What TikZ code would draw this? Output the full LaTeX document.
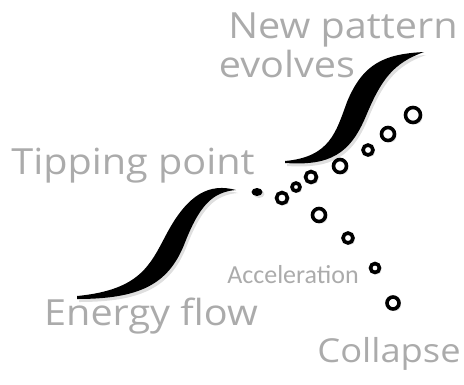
\documentclass[tikz,border=0pt]{standalone}
\usepackage{fontspec}
\setmainfont{Open Sans}[FakeStretch=1.1]
\newfontfamily\accfont{Carlito}
\usepackage{tikz}
\usetikzlibrary{shadows,shapes.geometric}

\tikzset{
  label/.style={text=black!33,font=\fontsize{36}{40}\selectfont,inner sep=0pt},
  wave/.style={fill=black,drop shadow={shadow xshift=2pt,shadow yshift=-3pt,opacity=0.25}},
  ring/.style={draw=black,fill=white,line width=3.6pt,circle,inner sep=0pt,
    drop shadow={shadow xshift=2pt,shadow yshift=-2pt,opacity=0.25}},
}

\begin{document}
\begin{tikzpicture}[x=1pt,y=-1pt]
  \useasboundingbox (0,0) rectangle (464,384);
  % the two S-shaped energy curves
  \fill[wave] (77,296) .. controls (140,290) and (150,265) .. (166,235)
    .. controls (188,193) and (210,183) .. (236,190)
    .. controls (212,192) and (199,206) .. (184,245)
    .. controls (168,284) and (140,299) .. (77,299) -- cycle;
  \fill[wave] (285,161) .. controls (330,157) and (336,132) .. (347,102)
    .. controls (363,63) and (385,54) .. (424,52)
    .. controls (393,63) and (381,80) .. (366,116)
    .. controls (350,154) and (330,166) .. (285,163) -- cycle;
  % rings after the tipping point
  \node[fill=black,ellipse,minimum width=11pt,minimum height=8pt,inner sep=0pt,
    drop shadow={shadow xshift=2pt,shadow yshift=-2pt,opacity=0.25}] (d0) at (257,192) {};
  \foreach \nm/\px/\py/\sz in {u1/282/198/11,u2/296/187/8,u3/311/177/11,u4/340/166/13,
      u5/368/150/10,u6/388/134/13,u7/413/115/15,
      c1/319/215/13,c2/348/238/10,c3/375/268/9,c4/393/303/12}
    \node[ring,minimum size=\sz pt] (\nm) at (\px,\py) {};
  % labels
  \node[label] (newpat) at (343,30) {New pattern};
  \node[label] (evolv) at (287,64) {evolves};
  \node[label] (tip) at (133,166) {Tipping point};
  \node[label] (energy) at (151,316) {Energy flow};
  \node[label,font=\fontsize{33}{36}\selectfont] (coll) at (389,354) {Collapse};
  \node[text=black!33,inner sep=0pt,font=\accfont\fontsize{26}{28}\selectfont] (accel) at (293,275) {Acceleration};
\end{tikzpicture}
\end{document}
